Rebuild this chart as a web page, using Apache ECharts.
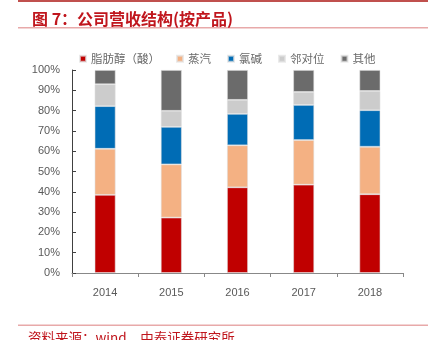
<!DOCTYPE html>
<html>
<head>
<meta charset="utf-8">
<script src="https://cdn.jsdelivr.net/npm/echarts@6/dist/echarts.min.js"></script>
<style>html,body{margin:0;padding:0;background:#fff}#c{width:439px;height:340px}</style>
</head>
<body>
<div id="c"></div>
<script>
var years = ['2014', '2015', '2016', '2017', '2018'];
var seriesNames = ['脂肪醇（酸）', '蒸汽', '氯碱', '邻对位', '其他'];
var fattyAlcohol = [38.5, 27.3, 42.2, 43.5, 38.8];
var steam = [22.7, 26.2, 20.7, 22.0, 23.4];
var chlorAlkali = [21.0, 18.5, 15.5, 17.3, 18.0];
var orthoPara = [10.8, 7.9, 6.9, 6.4, 9.5];
var others = [7.0, 20.1, 14.7, 10.8, 10.3];
var yTicks = [0, 10, 20, 30, 40, 50, 60, 70, 80, 90, 100];

var colors = ['#C00000', '#F4B183', '#006CB5', '#CCCCCC', '#6B6B6B'];
var values = [fattyAlcohol, steam, chlorAlkali, orthoPara, others];

var chart = echarts.init(document.getElementById('c'), null, {renderer: 'canvas'});
var series = seriesNames.map(function (n, i) {
  return {
    name: n, type: 'bar', stack: 'total', barWidth: 21,
    itemStyle: {color: colors[i], borderColor: 'rgba(225,225,225,0.7)', borderWidth: 0.8},
    data: values[i]
  };
});
chart.setOption({
  animation: false,
  color: colors,
  title: {
    text: '图 7：公司营收结构(按产品)', left: 27, top: 6,
    textStyle: {color: '#C0161D', fontSize: 16, fontWeight: 'bold', fontFamily: 'Noto Sans CJK SC'}
  },
  legend: {
    left: 74, top: 48, itemWidth: 6, itemHeight: 6, itemGap: 16, icon: 'rect',
    textStyle: {color: '#6A6A6A', fontSize: 11.5, fontFamily: 'Noto Sans CJK SC'},
    data: seriesNames
  },
  grid: {left: 72, right: 36, top: 70, bottom: 67, containLabel: false},
  xAxis: {
    type: 'category', data: years,
    axisLine: {lineStyle: {color: '#888888', width: 1}},
    axisTick: {show: true, length: 4, lineStyle: {color: '#888888'}},
    axisLabel: {color: '#595959', fontSize: 11, margin: 14, fontFamily: 'Liberation Sans'}
  },
  yAxis: {
    type: 'value', min: yTicks[0], max: yTicks[yTicks.length - 1], interval: 10,
    splitLine: {show: false},
    axisLine: {show: true, lineStyle: {color: '#404040'}},
    axisTick: {show: true, inside: true, length: 4, lineStyle: {color: '#404040'}},
    axisLabel: {color: '#595959', fontSize: 11, margin: 12, fontFamily: 'Liberation Sans', formatter: '{value}%'}
  },
  graphic: [
    {type: 'rect', shape: {x: 18, y: 0, width: 410, height: 2}, style: {fill: '#C0504D'}},
    {type: 'rect', shape: {x: 18, y: 27, width: 410, height: 1.5}, style: {fill: '#E8A9A9'}},
    {type: 'rect', shape: {x: 18, y: 324.5, width: 410, height: 1.5}, style: {fill: '#E8A9A9'}},
    {type: 'text', left: 28, top: 331, style: {text: '资料来源：wind，中泰证券研究所', fill: '#C0161D', font: '13.5px "Noto Sans CJK SC"'}}
  ],
  series: series
});
</script>
</body>
</html>
